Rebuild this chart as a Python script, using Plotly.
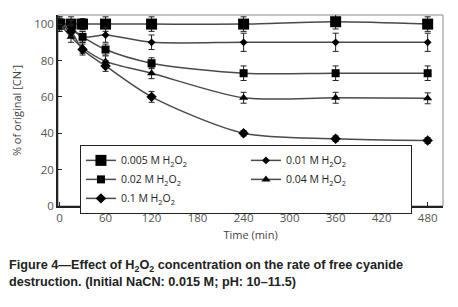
import plotly.graph_objects as go

time_min = [0, 15, 30, 60, 120, 240, 360, 480]

labels = ["0.005 M H<sub>2</sub>O<sub>2</sub>", "0.01 M H<sub>2</sub>O<sub>2</sub>",
          "0.02 M H<sub>2</sub>O<sub>2</sub>", "0.04 M H<sub>2</sub>O<sub>2</sub>",
          "0.1 M H<sub>2</sub>O<sub>2</sub>"]

cn_0005 = [100, 100, 100, 100, 100, 100, 101.3, 100]
cn_001 = [100, 98, 93, 94, 90, 90, 90, 90]
cn_002 = [100, 97, 93, 86, 78.5, 73, 73, 73]
cn_004 = [100, 93, 87, 79.5, 73, 59.5, 59.5, 59.2]
cn_01 = [100, 96, 86, 77, 60, 40, 37, 36]

err_0005 = [4, 4, 3, 4, 4, 4, 4, 4]
err_001 = [4, 4, 3, 4, 4, 5, 5, 5]
err_002 = [3, 3, 3, 3, 3, 4, 4, 4]
err_004 = [3, 3, 3, 3, 3, 3, 3, 3]
err_01 = [3, 3, 3, 3, 3, 1.5, 1.5, 1.5]

series = [cn_0005, cn_001, cn_002, cn_004, cn_01]
errors = [err_0005, err_001, err_002, err_004, err_01]
symbols = ["square", "diamond", "square", "triangle-up", "diamond"]
sizes = [11, 6, 8, 8, 8]

x_ticks = [0, 60, 120, 180, 240, 300, 360, 420, 480]
y_ticks = [0, 20, 40, 60, 80, 100]

fig = go.Figure()
for name, ys, es, sym, sz in zip(labels, series, errors, symbols, sizes):
    fig.add_trace(go.Scatter(
        x=time_min, y=ys, name=name, mode="lines+markers",
        line=dict(color="#4a4a4a", width=1.5, shape="spline", smoothing=0.8),
        marker=dict(symbol=sym, size=sz, color="black"),
        error_y=dict(type="data", array=es, color="#222", thickness=1, width=3),
    ))

tick_font = dict(family="Open Sans", size=11.5, color="#555")
title_font = dict(family="Open Sans", size=11, color="#444")
fig.update_xaxes(range=[-2, 500], tickvals=x_ticks, ticks="inside", ticklen=4,
                 tickcolor="#222", showline=True, linecolor="#222", linewidth=1.5,
                 showgrid=False, zeroline=False, tickfont=tick_font, automargin=False,
                 title=dict(text="Time (min)", font=title_font, standoff=8))
fig.update_yaxes(range=[0, 105], tickvals=y_ticks, ticks="inside", ticklen=4,
                 tickcolor="#222", showline=True, linecolor="#222", linewidth=1.5,
                 showgrid=False, zeroline=False, tickfont=tick_font, automargin=False,
                 title=dict(text="% of original [CN<sup>-</sup>]", font=title_font, standoff=10))

fig.add_shape(type="rect", xref="paper", yref="paper", x0=0, y0=0, x1=1, y1=1,
              line=dict(color="#888", width=1), layer="below")

fig.add_annotation(
    text="<b>Figure 4\u2014Effect of H<sub>2</sub>O<sub>2</sub> concentration on the rate of free cyanide<br>destruction. (Initial NaCN: 0.015 M; pH: 10\u201311.5)</b>",
    xref="paper", yref="paper", x=-0.132, y=-0.262, xanchor="left", yanchor="top",
    align="left", showarrow=False,
    font=dict(family="Liberation Sans", size=12.7, color="#222"))

fig.update_layout(
    width=458, height=307,
    margin=dict(l=58, r=15, t=15, b=101, autoexpand=False),
    plot_bgcolor="white", paper_bgcolor="white",
    legend=dict(orientation="h", x=0.057, y=0.32, xanchor="left", yanchor="top",
                bgcolor="white", bordercolor="#222", borderwidth=1,
                entrywidth=120, font=dict(family="Open Sans", size=10.5, color="#222"),
                itemwidth=30, tracegroupgap=0),
    showlegend=True,
)

fig.write_html("out.html", config={"displayModeBar": False},
               post_script="document.body.style.margin='0';document.body.style.padding='0';")
